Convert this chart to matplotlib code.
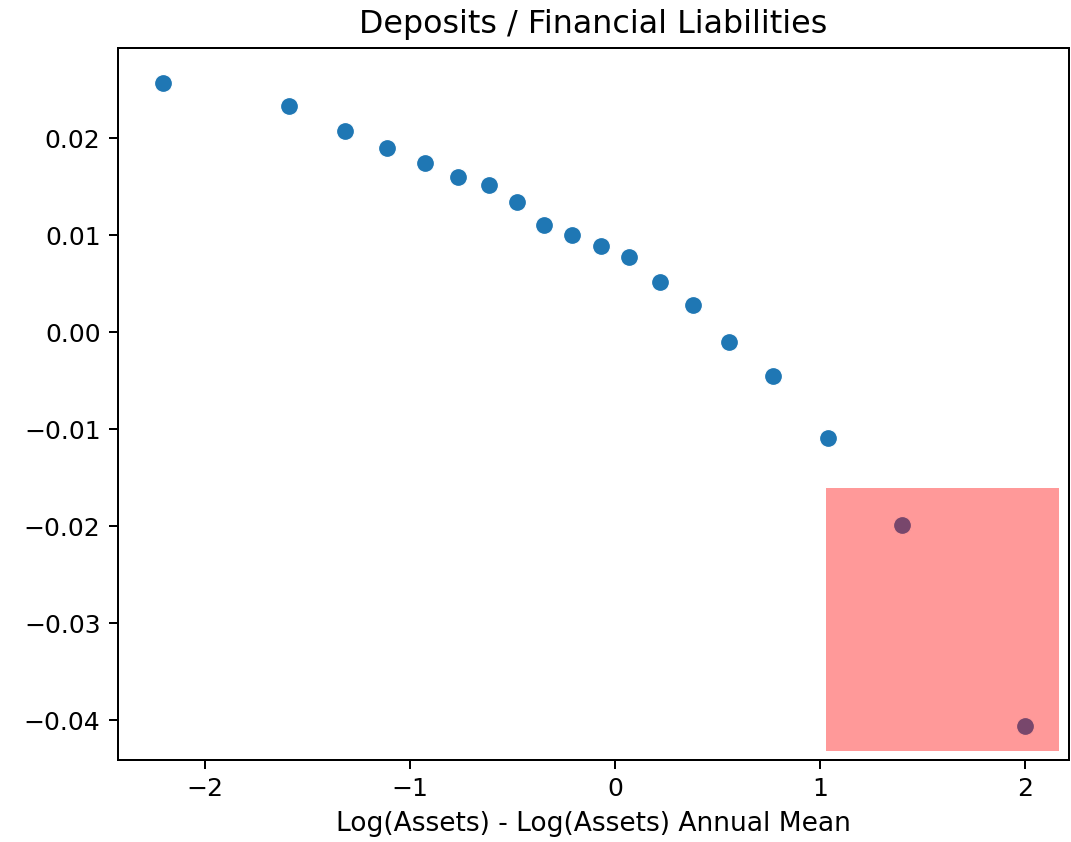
import matplotlib
matplotlib.use('Agg')
import matplotlib.pyplot as plt
from matplotlib.patches import Rectangle

# binned size deviation vs. deposit share
size_dev = [-2.205, -1.590, -1.317, -1.112, -0.927, -0.766, -0.615, -0.478, -0.346,
            -0.210, -0.068, 0.068, 0.220, 0.380, 0.556, 0.771, 1.039, 1.400, 2.000]
dep_share = [0.0257, 0.0233, 0.0207, 0.0190, 0.0174, 0.0160, 0.0152, 0.0134, 0.0110,
             0.0100, 0.0089, 0.0077, 0.0052, 0.0028, -0.0010, -0.0045, -0.0109, -0.0199, -0.0406]

# shaded region of the largest bins
box_x = (1.029, 2.166)
box_y = (-0.0432, -0.0161)

plt.rcParams['font.size'] = 10.5

fig = plt.figure(figsize=(1071 / 180, 842 / 180), dpi=180)
ax = fig.add_axes([0.1102, 0.0974, 0.8878, 0.8456])

ax.scatter(size_dev, dep_share, s=52, color='#1f77b4', edgecolor='white', linewidth=0.5, zorder=2)
ax.add_patch(Rectangle((box_x[0], box_y[0]), box_x[1] - box_x[0], box_y[1] - box_y[0],
                       color='red', alpha=0.4, linewidth=0, zorder=3))

ax.set_xlim(-2.424, 2.215)
ax.set_ylim(-0.04412, 0.02928)
ax.set_xticks([-2, -1, 0, 1, 2])
ax.set_yticks([-0.04, -0.03, -0.02, -0.01, 0.00, 0.01, 0.02])
ax.set_yticklabels(['\u22120.04', '\u22120.03', '\u22120.02', '\u22120.01', '0.00', '0.01', '0.02'])
ax.tick_params(labelsize=10)
ax.set_title('Deposits / Financial Liabilities', fontsize=12.7)
ax.set_xlabel('Log(Assets) - Log(Assets) Annual Mean', fontsize=10.6)

fig.savefig('out.png', dpi=180)
